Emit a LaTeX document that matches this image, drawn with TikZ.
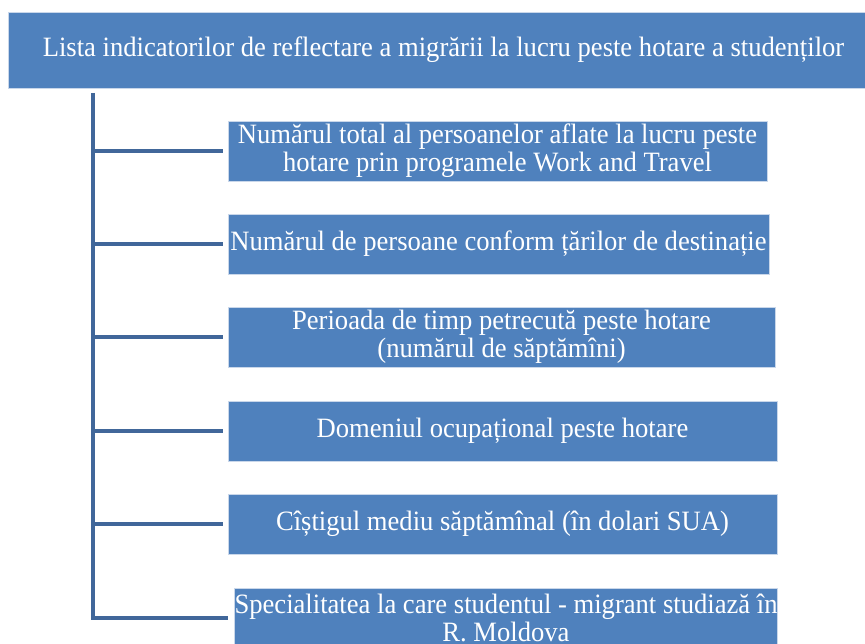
\documentclass[tikz,border=0pt]{standalone}
\usepackage{fontspec}
\setmainfont[FakeStretch=0.95]{Liberation Serif}
\definecolor{boxblue}{HTML}{4F81BD}
\definecolor{linkblue}{HTML}{41679A}
\definecolor{edgeblue}{HTML}{C9D7EA}
\begin{document}
\begin{tikzpicture}[x=1pt,y=-1pt,
  itembox/.style={fill=boxblue, draw=edgeblue, line width=0.8pt, text=white,
    align=center, inner sep=0pt, font=\fontsize{28}{28}\selectfont},
  link/.style={draw=linkblue, line width=4.5pt, line join=miter}]
\useasboundingbox (0,0) rectangle (865,644);
\node[itembox, minimum width=871pt, minimum height=76pt] (head) at (443.5,50)
  {Lista indicatorilor de reflectare a migrării la lucru peste hotare a studenților};
\node[itembox, minimum width=539pt, minimum height=60pt] (b1) at (497.5,151)
  {Numărul total al persoanelor aflate la lucru peste\\hotare prin programele Work and Travel};
\node[itembox, minimum width=541pt, minimum height=60pt] (b2) at (498.5,244)
  {Numărul de persoane conform țărilor de destinație};
\node[itembox, minimum width=547pt, minimum height=60pt] (b3) at (501.5,337)
  {Perioada de timp petrecută peste hotare\\(numărul de săptămîni)};
\node[itembox, minimum width=549pt, minimum height=60pt] (b4) at (502.5,431)
  {Domeniul ocupațional peste hotare};
\node[itembox, minimum width=549pt, minimum height=60pt] (b5) at (502.5,524)
  {Cîștigul mediu săptămînal (în dolari SUA)};
\node[itembox, minimum width=542pt, minimum height=60pt] (b6) at (506,618)
  {Specialitatea la care studentul - migrant studiază în\\R. Moldova};
\coordinate (top) at (93,93);
\draw[link] (top) |- ([xshift=-6pt]b6.west);
\foreach \b in {b1,b2,b3,b4,b5}
  \draw[link] (top |- \b.west) -- ([xshift=-5pt]\b.west);
\end{tikzpicture}
\end{document}
